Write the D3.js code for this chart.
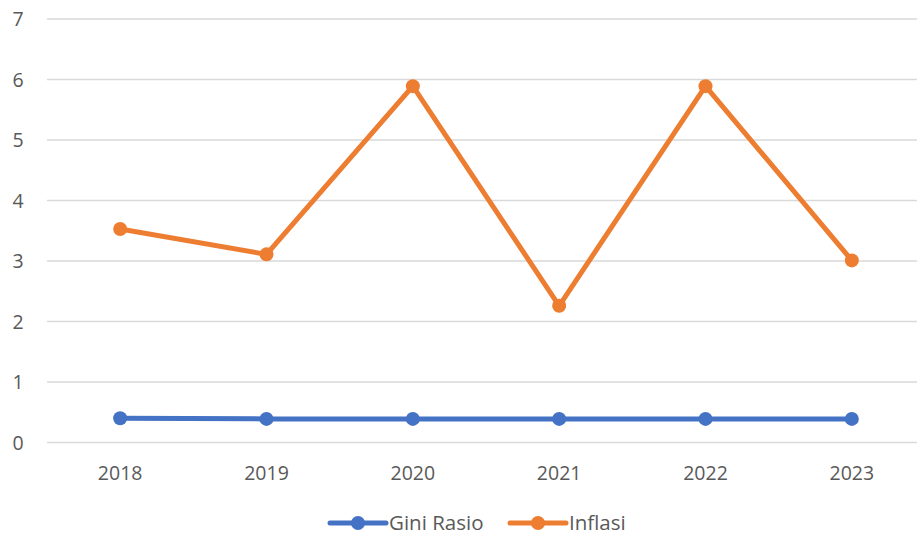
<!doctype html>
<html>
<head>
<style>
  body { margin: 0; background: #fff; }
  text { font-family: "Open Sans", sans-serif; }
</style>
</head>
<body>
  <svg id="chart"></svg>
</body>
<script src="https://cdn.jsdelivr.net/npm/d3@7"></script>
<script>
  const years = ["2018", "2019", "2020", "2021", "2022", "2023"];
  const gini = [0.40, 0.39, 0.39, 0.39, 0.39, 0.39];
  const inflasi = [3.53, 3.11, 5.89, 2.26, 5.89, 3.01];
  const yTicks = [0, 1, 2, 3, 4, 5, 6, 7];
  const seriesNames = ["Gini Rasio", "Inflasi"];
  const colors = ["#4472c4", "#ed7d31"];

  const width = 917, height = 538;
  const svg = d3.select("#chart").attr("width", width).attr("height", height);

  const x = d3.scalePoint().domain(years).range([47, 925]).padding(0.5);
  const y = d3.scaleLinear().domain([0, 7]).range([442.5, 19]);

  // gridlines
  svg.append("g")
    .selectAll("line")
    .data(yTicks)
    .enter()
    .append("line")
    .attr("x1", 47).attr("x2", width)
    .attr("y1", d => y(d)).attr("y2", d => y(d))
    .attr("stroke", "#d9d9d9")
    .attr("stroke-width", 1.3)

  // y labels
  svg.append("g")
    .selectAll("text")
    .data(yTicks)
    .enter()
    .append("text")
    .attr("x", 18)
    .attr("y", d => y(d))
    .attr("dy", "0.36em")
    .attr("text-anchor", "middle")
    .attr("font-size", 19.5)
    .attr("fill", "#595959")
    .text(d => d)

  // x labels
  svg.append("g")
    .selectAll("text")
    .data(years)
    .enter()
    .append("text")
    .attr("x", d => x(d))
    .attr("y", 473)
    .attr("dy", "0.36em")
    .attr("text-anchor", "middle")
    .attr("font-size", 19.5)
    .attr("fill", "#595959")
    .text(d => d)

  const series = [gini, inflasi];
  const line = d3.line().x((d, i) => x(years[i])).y(d => y(d));

  series.forEach((vals, k) => {
    svg.append("path")
      .datum(vals)
      .attr("d", line)
      .attr("fill", "none")
      .attr("stroke", colors[k])
      .attr("stroke-width", 5)
      .attr("stroke-linejoin", "round")
    svg.append("g")
      .selectAll("circle")
      .data(vals)
      .enter()
      .append("circle")
      .attr("cx", (d, i) => x(years[i]))
      .attr("cy", d => y(d))
      .attr("r", 7)
      .attr("fill", colors[k])
  });

  // legend
  const legendX = [330, 510];
  const legend = svg.append("g")
    .selectAll("g")
    .data(seriesNames)
    .enter()
    .append("g")
    .attr("transform", (d, i) => `translate(${legendX[i]},523)`)
  legend.append("line")
    .attr("x1", 0).attr("x2", 56)
    .attr("stroke", (d, i) => colors[i])
    .attr("stroke-width", 5)
    .attr("stroke-linecap", "round")
  legend.append("circle")
    .attr("cx", 28).attr("r", 7)
    .attr("fill", (d, i) => colors[i])
  legend.append("text")
    .attr("x", 59)
    .attr("dy", "0.36em")
    .attr("font-size", 20.5)
    .attr("fill", "#595959")
    .text(d => d)
</script>
</html>
